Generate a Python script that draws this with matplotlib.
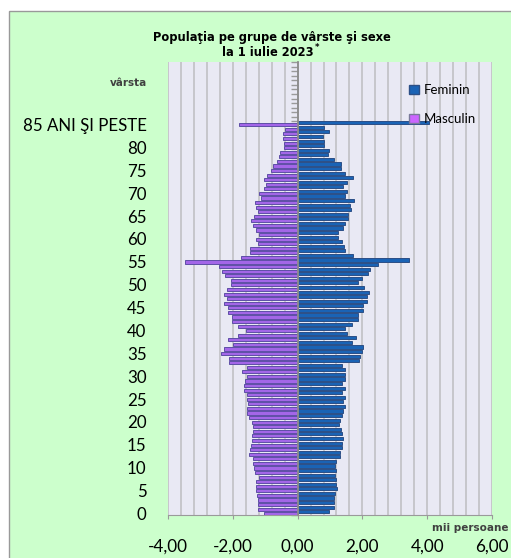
import matplotlib
matplotlib.use('Agg')
import matplotlib.pyplot as plt
from matplotlib.patches import Rectangle, Patch

# varste 0..85 (ultima = 85 ani si peste), mii persoane
varste = list(range(86))
feminin = [0.98, 1.11, 1.11, 1.11, 1.16, 1.22, 1.18, 1.20, 1.16, 1.18,
           1.16, 1.20, 1.31, 1.31, 1.37, 1.37, 1.41, 1.37, 1.33, 1.27,
           1.32, 1.37, 1.41, 1.47, 1.41, 1.45, 1.37, 1.45, 1.37, 1.47,
           1.45, 1.45, 1.37, 1.89, 1.92, 2.00, 2.03, 1.67, 1.80, 1.51,
           1.47, 1.67, 1.85, 1.86, 2.02, 2.01, 2.15, 2.15, 2.19, 2.04,
           1.86, 1.98, 2.16, 2.24, 2.49, 3.45, 1.72, 1.46, 1.42, 1.38,
           1.26, 1.26, 1.41, 1.47, 1.56, 1.56, 1.64, 1.63, 1.75, 1.45,
           1.51, 1.41, 1.51, 1.72, 1.47, 1.34, 1.34, 1.11, 0.93, 0.96,
           0.82, 0.82, 0.77, 0.96, 0.82, 4.07]
masculin = [1.03, 1.21, 1.23, 1.23, 1.25, 1.28, 1.28, 1.28, 1.20, 1.30,
            1.34, 1.39, 1.39, 1.49, 1.46, 1.44, 1.42, 1.42, 1.39, 1.39,
            1.42, 1.49, 1.57, 1.57, 1.52, 1.57, 1.57, 1.65, 1.65, 1.62,
            1.57, 1.72, 1.57, 2.13, 2.13, 2.35, 2.28, 1.98, 2.16, 1.85,
            1.60, 1.85, 2.01, 2.04, 2.16, 2.16, 2.28, 2.19, 2.28, 2.19,
            2.06, 2.06, 2.23, 2.34, 2.44, 3.46, 1.75, 1.47, 1.46, 1.23,
            1.27, 1.20, 1.29, 1.39, 1.44, 1.34, 1.23, 1.29, 1.31, 1.13,
            1.20, 1.05, 0.98, 1.05, 0.94, 0.83, 0.75, 0.65, 0.57, 0.53,
            0.43, 0.43, 0.46, 0.46, 0.38, 1.82]
etichete_y = ['0', '5', '10', '15', '20', '25', '30', '35', '40',
              '45', '50', '55', '60', '65', '70', '75', '80', '85 ANI ŞI PESTE']
pozitii_y = [0, 5, 10, 15, 20, 25, 30, 35, 40, 45, 50, 55, 60, 65, 70, 75, 80, 85]
valori_x = [-4, -2, 0, 2, 4, 6]

plt.rcParams['font.family'] = ['Lato', 'DejaVu Sans']

fig = plt.figure(figsize=(5.11, 5.58), dpi=100)
fig.patch.set_facecolor('white')
fig.patches.append(Rectangle((9 / 511, -0.05), 1.1, 1.03, transform=fig.transFigure,
                             facecolor='#ccffcc', edgecolor='#999999', lw=1, zorder=-1))

ax = fig.add_axes([168 / 511, 1 - 515 / 558, 324 / 511, 453 / 558])
ax.set_facecolor('#e9e9f4')

y_f = [v + 0.72 for v in varste]
y_m = [v + 0.28 for v in varste]
ax.barh(y_f, feminin, height=0.68, color='#1a63b5', edgecolor='#2c4f86', lw=0.7, zorder=3)
ax.barh(y_m, [-v for v in masculin], height=0.68, color='#a366e8', edgecolor='#5e4fa6',
        lw=0.7, zorder=3)

ax.set_xlim(-4, 6)
ax.set_ylim(0, 99)

# grila verticala la fiecare 0,4
for i in range(26):
    ax.axvline(-4 + i * 0.4, color='#c4c4c8', lw=1.3, zorder=1)

for s in ['top', 'right']:
    ax.spines[s].set_visible(False)
ax.spines['left'].set_position(('data', 0))
ax.spines['left'].set_color('#8c8c8c')
ax.spines['left'].set_linewidth(1.3)
ax.spines['left'].set_zorder(4)
ax.spines['bottom'].set_color('#9a9a9a')

ax.set_yticks(range(100), minor=True)
ax.set_yticks([])
ax.tick_params(axis='y', which='minor', length=5, color='#9a9a9a', width=1)

ax.set_xticks(valori_x)
ax.set_xticklabels([f'{v:.2f}'.replace('.', ',') for v in valori_x])
ax.tick_params(axis='x', length=3, color='#9a9a9a', pad=14, labelsize=12.3)

for p, t in zip(pozitii_y, etichete_y):
    ax.text(-0.066, p, t, transform=ax.get_yaxis_transform(), ha='right', va='center',
            fontsize=12.2, color='black')
ax.text(-0.066, 94.5, 'vârsta', transform=ax.get_yaxis_transform(), ha='right',
        va='center', fontsize=7.5, fontweight='bold', color='#404040',
        family='DejaVu Sans')

fig.text(432 / 511, 1 - 528 / 558, 'mii persoane', ha='left', va='center', fontsize=7.5,
         fontweight='bold', color='#404040', family='DejaVu Sans')

fig.text(272 / 511, 1 - 37 / 558, 'Populaţia pe grupe de vârste şi sexe', ha='center',
         va='center', fontsize=8.3, fontweight='bold', family='DejaVu Sans')
t2 = fig.text(268 / 511, 1 - 53 / 558, 'la 1 iulie 2023', ha='center', va='center',
              fontsize=8.3, fontweight='bold', family='DejaVu Sans')
ax.annotate('*', xy=(1, 1), xycoords=t2, xytext=(1, -1), textcoords='offset points',
            ha='left', va='center', fontsize=6, fontweight='bold', family='DejaVu Sans')

handles = [Patch(facecolor='#1a63b5', edgecolor='#2c4f86'),
           Patch(facecolor='#cc66ff', edgecolor='#7a7a9a')]
ax.legend(handles, ['Feminin', 'Masculin'], loc='upper left',
          bbox_to_anchor=(409 / 511, 1 - 84 / 558), bbox_transform=fig.transFigure,
          frameon=False, fontsize=9.5, handlelength=0.75, handleheight=0.75,
          handletextpad=0.4, labelspacing=1.3, borderpad=0, borderaxespad=0)

fig.savefig('out.png', dpi=100)
